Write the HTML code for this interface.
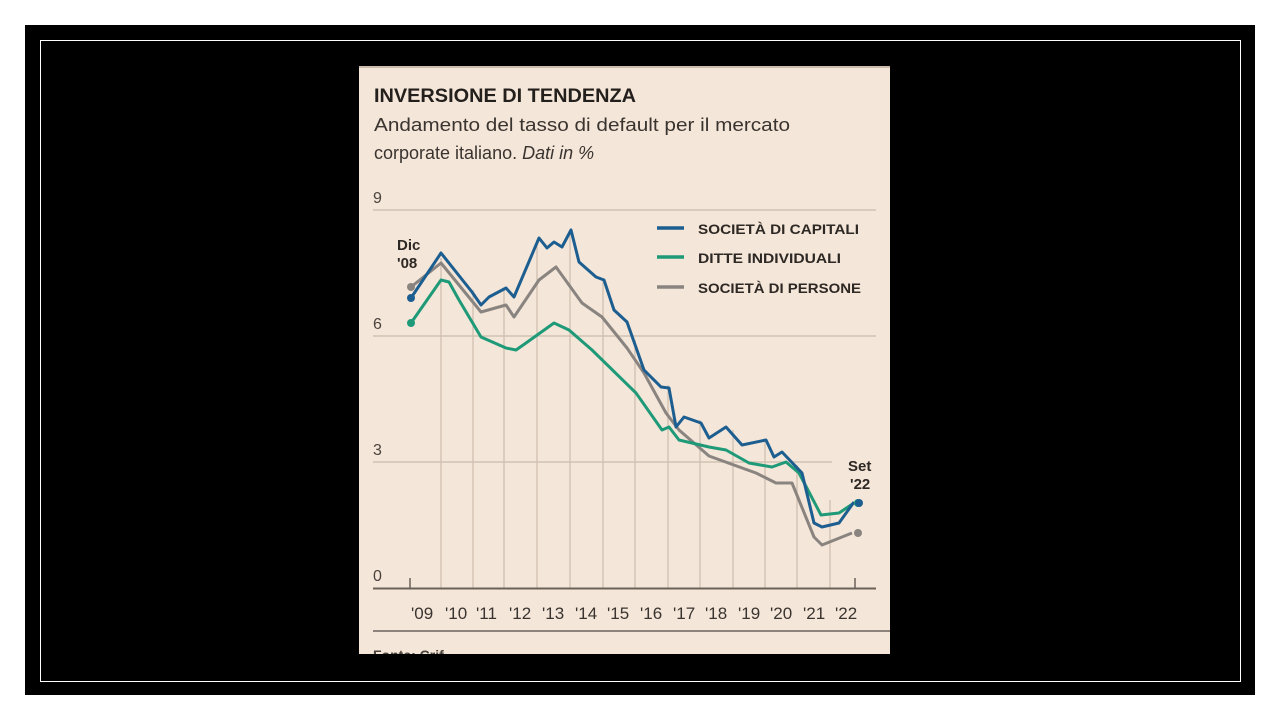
<!DOCTYPE html>
<html><head><meta charset="utf-8"><style>
html,body{margin:0;padding:0;background:#fff;}
body{width:1280px;height:720px;position:relative;overflow:hidden;font-family:"Liberation Sans",sans-serif;}
</style></head><body>
<svg width="1280" height="720" viewBox="0 0 1280 720" style="position:absolute;left:0;top:0">
<rect x="0" y="0" width="1280" height="720" fill="#fff"/>
<rect x="25" y="25" width="1230" height="670" fill="#000"/>
<rect x="359" y="66" width="531" height="588" fill="#f4e6d8"/>
<rect x="359" y="66" width="531" height="2" fill="#cbbcae"/>
<text x="374" y="102" font-size="19" font-weight="bold" fill="#231f1c" textLength="262" lengthAdjust="spacingAndGlyphs">INVERSIONE DI TENDENZA</text>
<text x="374" y="131" font-size="18" fill="#3a3430" textLength="416" lengthAdjust="spacingAndGlyphs">Andamento del tasso di default per il mercato</text>
<text x="374" y="159" font-size="18" fill="#3a3430">corporate italiano. <tspan font-style="italic">Dati in %</tspan></text>
<g stroke="#d2c3b4" stroke-width="1.5">
<line x1="373" y1="210" x2="876" y2="210"/>
<line x1="373" y1="336" x2="876" y2="336"/>
<line x1="373" y1="462" x2="832" y2="462"/>
</g>
<g stroke="#cfc0b1" stroke-width="1.3">
<line x1="441" y1="258" x2="441" y2="588"/><line x1="473" y1="290" x2="473" y2="588"/>
<line x1="504" y1="290" x2="504" y2="588"/><line x1="537" y1="240" x2="537" y2="588"/>
<line x1="570" y1="230" x2="570" y2="588"/><line x1="603" y1="278" x2="603" y2="588"/>
<line x1="635" y1="340" x2="635" y2="588"/><line x1="668" y1="385" x2="668" y2="588"/>
<line x1="700" y1="420" x2="700" y2="588"/><line x1="733" y1="430" x2="733" y2="588"/>
<line x1="765" y1="440" x2="765" y2="588"/><line x1="797" y1="465" x2="797" y2="588"/>
<line x1="830" y1="500" x2="830" y2="588"/>
</g>
<line x1="373" y1="588.5" x2="876" y2="588.5" stroke="#6b625a" stroke-width="2"/>
<line x1="410" y1="578" x2="410" y2="588" stroke="#6b625a" stroke-width="1.5"/>
<line x1="855" y1="578" x2="855" y2="588" stroke="#6b625a" stroke-width="1.5"/>
<line x1="373" y1="631" x2="890" y2="631" stroke="#6b625a" stroke-width="1.5"/>
<g font-size="16" fill="#4a433d">
<text x="373" y="203">9</text><text x="373" y="329">6</text><text x="373" y="455">3</text><text x="373" y="581">0</text>
</g>
<g font-size="17" fill="#3a3430">
<text x="411" y="619">'09</text><text x="445" y="619">'10</text><text x="476" y="619">'11</text>
<text x="509" y="619">'12</text><text x="542" y="619">'13</text><text x="575" y="619">'14</text>
<text x="607" y="619">'15</text><text x="640" y="619">'16</text><text x="673" y="619">'17</text>
<text x="705" y="619">'18</text><text x="738" y="619">'19</text><text x="770" y="619">'20</text>
<text x="803" y="619">'21</text><text x="835" y="619">'22</text>
</g>
<text x="373" y="660" font-size="14" font-weight="bold" fill="#4a433d">Fonte: Crif</text>
<g font-size="15" fill="#2d2824" font-weight="bold">
<text x="397" y="250">Dic</text><text x="397" y="268">'08</text>
<text x="848" y="471">Set</text><text x="850" y="489">'22</text>
</g>
<polyline fill="none" stroke="#8a8480" stroke-width="3" stroke-linejoin="round" points="411,287 441,263 481,312 506,305 514,317 539,280 556,267 582,303 602,317 627,348 644,373 666,413 679,430 709,456 756,473 776,483 792,483 814,537 822,545 852,533"/>
<polyline fill="none" stroke="#1f9a78" stroke-width="3" stroke-linejoin="round" points="411,323 441,280 449,282 459,300 481,337 506,348 516,350 526,343 554,323 569,330 592,350 636,393 662,430 669,427 679,440 709,447 726,450 749,463 772,467 786,462 799,473 821,515 839,513 854,503"/>
<polyline fill="none" stroke="#1d5e91" stroke-width="3" stroke-linejoin="round" points="411,298 441,253 472,292 481,305 489,297 506,288 514,297 539,238 547,248 554,242 562,247 571,230 579,262 596,277 604,280 614,310 627,322 644,370 661,387 669,388 676,427 684,417 701,423 709,438 726,427 742,445 766,440 774,457 782,452 802,473 814,523 822,527 839,523 854,502"/>
<circle cx="411" cy="287" r="4" fill="#8a8480"/><circle cx="411" cy="323" r="4" fill="#1f9a78"/><circle cx="411" cy="298" r="4" fill="#1d5e91"/>
<circle cx="858" cy="533" r="4" fill="#8a8480"/><circle cx="858" cy="503" r="4" fill="#1f9a78"/><circle cx="859" cy="503" r="4" fill="#1d5e91"/>
<g stroke-width="3.5">
<line x1="657" y1="228" x2="684" y2="228" stroke="#1d5e91"/>
<line x1="657" y1="257" x2="684" y2="257" stroke="#1f9a78"/>
<line x1="657" y1="287" x2="684" y2="287" stroke="#8a8480"/>
</g>
<g font-size="14" font-weight="bold" fill="#2d2824">
<text x="698" y="234" textLength="161" lengthAdjust="spacingAndGlyphs">SOCIETÀ DI CAPITALI</text>
<text x="698" y="263" textLength="143" lengthAdjust="spacingAndGlyphs">DITTE INDIVIDUALI</text>
<text x="698" y="293" textLength="163" lengthAdjust="spacingAndGlyphs">SOCIETÀ DI PERSONE</text>
</g>
<rect x="359" y="654" width="531" height="41" fill="#000"/>
<rect x="40.5" y="40.5" width="1200" height="641" fill="none" stroke="#fff" stroke-width="1"/>
</svg>
</body></html>
